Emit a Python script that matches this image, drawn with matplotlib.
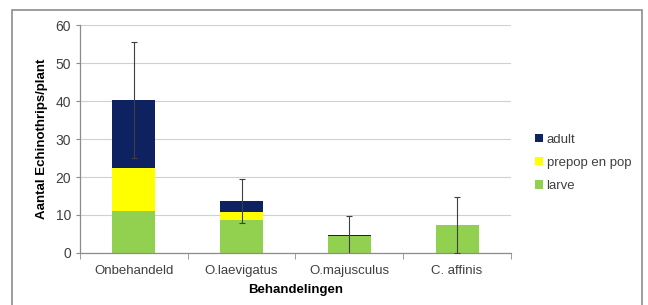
import matplotlib.pyplot as plt
from matplotlib.patches import Rectangle
import numpy as np

plt.rcParams['font.family'] = ['Liberation Sans', 'DejaVu Sans']

categories = ['Onbehandeld', 'O.laevigatus', 'O.majusculus', 'C. affinis']
larve = [11.0, 8.7, 4.4, 7.4]
prepop = [11.4, 2.2, 0.0, 0.0]
adult = [17.8, 2.8, 0.3, 0.0]
err = [15.3, 5.8, 5.1, 7.3]

colors = {'adult': '#0e2261', 'prepop': '#ffff00', 'larve': '#92d050'}

fig = plt.figure(figsize=(6.48, 3.05), dpi=100)
ax = fig.add_axes([0.1235, 0.1705, 0.665, 0.7475])

# outer chart border
fig.patches.append(Rectangle((12 / 648, -0.02), 630 / 648, 1 - 10 / 305 + 0.02,
                             transform=fig.transFigure, fill=False,
                             edgecolor='#8c8c8c', linewidth=1.2))

x = np.arange(len(categories))
w = 0.4
b1 = ax.bar(x, larve, w, color=colors['larve'], label='larve', zorder=2)
bottom2 = np.array(larve)
b2 = ax.bar(x, prepop, w, bottom=bottom2, color=colors['prepop'],
            label='prepop en pop', zorder=2)
bottom3 = bottom2 + np.array(prepop)
b3 = ax.bar(x, adult, w, bottom=bottom3, color=colors['adult'],
            label='adult', zorder=2)
totals = bottom3 + np.array(adult)
ax.errorbar(x, totals, yerr=err, fmt='none', ecolor='#404040',
            elinewidth=0.8, capsize=2.5, capthick=0.8, zorder=3)

ax.set_xlim(-0.5, len(categories) - 0.5)
ax.set_ylim(0, 60)
ax.set_yticks(range(0, 61, 10))
ax.set_xticks(x)
ax.set_xticklabels(categories)
ax.set_xticks(np.arange(-0.5, len(categories)), minor=True)
ax.tick_params(axis='x', which='major', length=0, labelsize=9.5, colors='#404040', pad=9)
ax.tick_params(axis='x', which='minor', length=4, color='#8c8c8c')
ax.tick_params(axis='y', length=3, color='#8c8c8c', labelsize=10, labelcolor='#404040')

ax.grid(axis='y', color='#d0d0d0', linewidth=0.8, zorder=0)
for s in ['top', 'right']:
    ax.spines[s].set_visible(False)
for s in ['left', 'bottom']:
    ax.spines[s].set_color('#8c8c8c')
    ax.spines[s].set_linewidth(0.9)

ax.set_ylabel('Aantal Echinothrips/plant', fontsize=9.5, fontweight='bold', labelpad=5)
ax.set_xlabel('Behandelingen', fontsize=9.5, fontweight='bold', labelpad=5)

handles = [b3, b2, b1]
leg = fig.legend(handles, ['adult', 'prepop en pop', 'larve'],
                 loc='center left', bbox_to_anchor=(0.817, 0.466), frameon=False,
                 fontsize=9.5, handlelength=0.6, handleheight=0.6,
                 handletextpad=0.3, labelspacing=0.85, borderaxespad=0)
for t in leg.get_texts():
    t.set_color('#404040')

fig.savefig('out.png', dpi=100)
